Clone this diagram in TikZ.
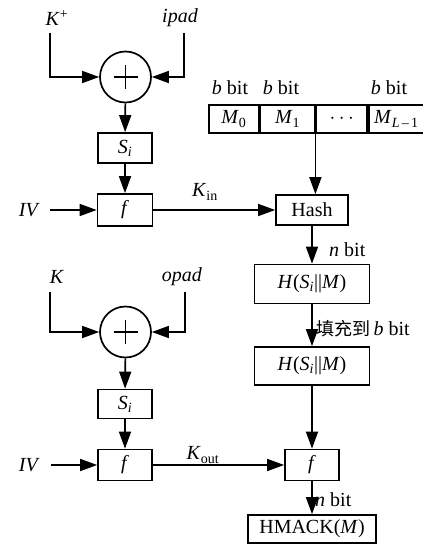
\documentclass[tikz,border=0pt]{standalone}
\usepackage{fontspec}
\setmainfont{Liberation Serif}
\newfontfamily\cjk{Noto Sans CJK SC}
\usetikzlibrary{arrows.meta}
\begin{document}
\begin{tikzpicture}[x=1pt,y=-1pt,
  every node/.style={font=\fontsize{20}{24}\selectfont, inner sep=0pt},
  box/.style={draw, line width=1.7pt},
  lbl/.style={},
  conn/.style={line width=1.6pt},
  arr/.style={line width=1.6pt, -{Triangle[length=17pt,width=12pt]}},
  xorc/.style={draw, circle, line width=1.7pt, minimum size=51pt}]
\useasboundingbox (0,0) rectangle (423,544);

% ---------- top left ----------
\node[lbl] (kplus) at (57,18) {\textit{K}\textsuperscript{+}};
\node[lbl] (ipad) at (180,18) {\textit{ipad}};
\coordinate (kp) at (50,33);
\coordinate (ip) at (184,33);
\node[xorc] (xor1) at (125.5,77) {};
\draw[line width=1.2pt] ([xshift=-12pt]xor1.center) -- ([xshift=12pt]xor1.center);
\draw[line width=1.2pt] ([yshift=-12pt]xor1.center) -- ([yshift=12pt]xor1.center);
\node[box, minimum width=54pt, minimum height=30pt] (si1) at (125,148) {\textit{S}\textsubscript{\textit{i}}};
\node[box, minimum width=55pt, minimum height=32pt] (f1) at (125,210) {\textit{f}};
\node[lbl, anchor=east] (iv1) at (40,210) {\textit{IV}};
\node[lbl] (kin) at (205,192) {\textit{K}\textsubscript{in}};

\draw[arr] (kp) |- (xor1.west);
\draw[arr] (ip) |- (xor1.east);
\draw[arr] (xor1) -- (si1);
\draw[arr] (si1) -- (f1);
\draw[arr] ([xshift=10pt]iv1.east) -- (f1.west);

% ---------- message block ----------
\node[box, minimum width=50pt, minimum height=28pt, anchor=west] (m0) at (208,119) {\textit{M}\textsubscript{0}};
\node[box, minimum width=54pt, minimum height=28pt, anchor=west] (m1) at (m0.east) {\textit{M}\textsubscript{1}};
\node[box, minimum width=51pt, minimum height=28pt, anchor=west] (m2) at (m1.east) {$\cdots$};
\node[box, minimum width=55pt, minimum height=28pt, anchor=west] (m3) at (m2.east) {\textit{M}\textsubscript{\textit{L}\,--\,1}};
\node[lbl] (b0) at (230,88) {\textit{b} bit};
\node[lbl] (b1) at (281,88) {\textit{b} bit};
\node[lbl] (b3) at (389,88) {\textit{b} bit};

% ---------- right column ----------
\node[box, minimum width=72pt, minimum height=30pt] (hash) at (312,210) {Hash};
\node[box, minimum width=115pt, minimum height=39pt] (h1) at (312,284) {\textit{H}(\textit{S}\textsubscript{\textit{i}}||\textit{M})};
\node[box, minimum width=115pt, minimum height=38pt] (h2) at (312,366) {\textit{H}(\textit{S}\textsubscript{\textit{i}}||\textit{M})};
\node[box, minimum width=54pt, minimum height=31pt] (f2) at (312,465) {\textit{f}};
\node[box, minimum width=128pt, minimum height=28pt] (hmac) at (312,529) {HMACK(\textit{M})};

\node[lbl, anchor=west] (nb1) at (329,250) {\textit{n} bit};
\node[lbl, anchor=west] (fill) at (316,329) {{\cjk\fontsize{18}{20}\selectfont 填充到}\,\textit{b} bit};
\node[lbl, anchor=west] (nb2) at (315,500) {\textit{n} bit};

\draw[arr] (m1.south east) -- (m1.south east |- hash.north);
\draw[arr] (f1) -- (hash);
\draw[arr] (hash) -- (h1);
\draw[arr] (h1) -- (h2);
\draw[arr] (h2) -- (f2);
\draw[arr] (f2) -- (hmac);

% ---------- bottom left ----------
\node[lbl] (k) at (57,277) {\textit{K}};
\node[lbl] (opad) at (182,277) {\textit{opad}};
\coordinate (kc) at (50,292);
\coordinate (oc) at (185,292);
\node[xorc] (xor2) at (125.5,332) {};
\draw[line width=1.2pt] ([xshift=-12pt]xor2.center) -- ([xshift=12pt]xor2.center);
\draw[line width=1.2pt] ([yshift=-12pt]xor2.center) -- ([yshift=12pt]xor2.center);
\node[box, minimum width=54pt, minimum height=29pt] (si2) at (125,404) {\textit{S}\textsubscript{\textit{i}}};
\node[box, minimum width=54pt, minimum height=31pt] (f3) at (125,465) {\textit{f}};
\node[lbl, anchor=east] (iv2) at (40,465) {\textit{IV}};
\node[lbl] (kout) at (203,455) {\textit{K}\textsubscript{out}};

\draw[arr] (kc) |- (xor2.west);
\draw[arr] (oc) |- (xor2.east);
\draw[arr] (xor2) -- (si2);
\draw[arr] (si2) -- (f3);
\draw[arr] ([xshift=11pt]iv2.east) -- (f3.west);
\draw[arr] (f3) -- (f2);
\end{tikzpicture}
\end{document}
